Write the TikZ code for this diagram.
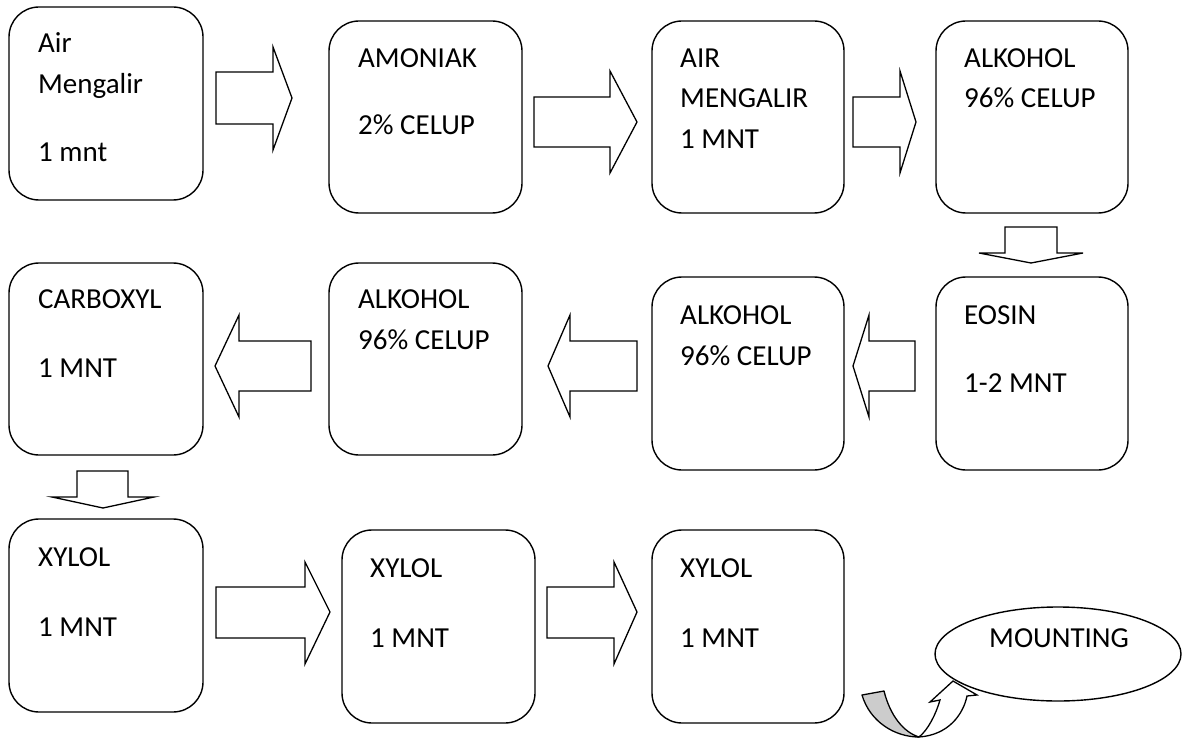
\documentclass[tikz,border=0pt]{standalone}
\usepackage{fontspec}
\setmainfont{Carlito}
\usetikzlibrary{shapes.geometric,calc}
\begin{document}
\begin{tikzpicture}[x=1pt,y=-1pt,
  stepbox/.style={draw,line width=1.4pt,rounded corners=30pt,anchor=north west,inner sep=0pt,outer sep=0pt},
  txt/.style={anchor=base west,inner sep=0pt,font=\fontsize{29}{35}\selectfont},
  blk/.style={draw,line width=1.3pt,fill=white,line join=miter},
  ovalbox/.style={draw,ellipse,line width=1.4pt,inner sep=0pt,minimum width=246pt,minimum height=94pt}]
\useasboundingbox (0,0) rectangle (1185,738);
% boxes
\node[stepbox,minimum width=194pt,minimum height=193pt] (b1) at (9,7) {};
\node[stepbox,minimum width=193pt,minimum height=192pt] (b2) at (329,21) {};
\node[stepbox,minimum width=192pt,minimum height=192pt] (b3) at (652,21) {};
\node[stepbox,minimum width=192pt,minimum height=192pt] (b4) at (936,21) {};
\node[stepbox,minimum width=192pt,minimum height=193pt] (b5) at (936,277) {};
\node[stepbox,minimum width=192pt,minimum height=193pt] (b6) at (652,277) {};
\node[stepbox,minimum width=193pt,minimum height=192pt] (b7) at (329,263) {};
\node[stepbox,minimum width=194pt,minimum height=192pt] (b8) at (9,263) {};
\node[stepbox,minimum width=194pt,minimum height=193pt] (b9) at (9,519) {};
\node[stepbox,minimum width=193pt,minimum height=193pt] (b10) at (342,530) {};
\node[stepbox,minimum width=192pt,minimum height=193pt] (b11) at (652,530) {};
\node[ovalbox] (ell) at (1058,654) {};
% texts
\node[txt] (t1a) at (38,53) {Air};
\node[txt] (t1b) at (38,94) {Mengalir};
\node[txt] (t1c) at (38,162) {1 mnt};
\node[txt] (t2a) at (358,68) {AMONIAK};
\node[txt] (t2b) at (358,135) {2\% CELUP};
\node[txt] (t3a) at (680,68) {AIR};
\node[txt] (t3b) at (680,108) {MENGALIR};
\node[txt] (t3c) at (680,149) {1 MNT};
\node[txt] (t4a) at (964,68) {ALKOHOL};
\node[txt] (t4b) at (964,108) {96\% CELUP};
\node[txt] (t5a) at (964,324) {EOSIN};
\node[txt] (t5b) at (964,392) {1-2 MNT};
\node[txt] (t6a) at (680,324) {ALKOHOL};
\node[txt] (t6b) at (680,365) {96\% CELUP};
\node[txt] (t7a) at (358,308) {ALKOHOL};
\node[txt] (t7b) at (358,349) {96\% CELUP};
\node[txt] (t8a) at (38,308) {CARBOXYL};
\node[txt] (t8b) at (38,377) {1 MNT};
\node[txt] (t9a) at (38,566) {XYLOL};
\node[txt] (t9b) at (38,636) {1 MNT};
\node[txt] (t10a) at (370,577) {XYLOL};
\node[txt] (t10b) at (370,647) {1 MNT};
\node[txt] (t11a) at (680,577) {XYLOL};
\node[txt] (t11b) at (680,647) {1 MNT};
\node[txt] (tm) at (989,647) {MOUNTING};
% right block arrows
\draw[blk] (216,72) -- (273,72) -- (273,47) -- (292,98) -- (273,150) -- (273,124) -- (216,124) -- cycle;
\draw[blk] (534,97) -- (610,97) -- (610,71) -- (637,122) -- (610,173) -- (610,147) -- (534,147) -- cycle;
\draw[blk] (853,97) -- (900,97) -- (900,71) -- (916,122) -- (900,173) -- (900,147) -- (853,147) -- cycle;
% left block arrows
\draw[blk] (311,341) -- (239,341) -- (239,315) -- (215,366) -- (239,417) -- (239,391) -- (311,391) -- cycle;
\draw[blk] (637,341) -- (570,341) -- (570,315) -- (548,366) -- (570,417) -- (570,391) -- (637,391) -- cycle;
\draw[blk] (915,341) -- (869,341) -- (869,315) -- (853,366) -- (869,417) -- (869,391) -- (915,391) -- cycle;
% row 3 right arrows
\draw[blk] (216,587) -- (305,587) -- (305,562) -- (330,612) -- (305,664) -- (305,638) -- (216,638) -- cycle;
\draw[blk] (547,587) -- (614,587) -- (614,562) -- (637,612) -- (614,664) -- (614,638) -- (547,638) -- cycle;
% down arrows
\draw[blk] (1005,227) -- (1057,227) -- (1057,253) -- (1083,253) -- (1031,263) -- (979,253) -- (1005,253) -- cycle;
\draw[blk] (77,471) -- (128,471) -- (128,497) -- (154,497) -- (103,508) -- (52,497) -- (77,497) -- cycle;
% curved arrow
\filldraw[fill=black!20,draw=black,line width=1.3pt,line join=round] (862,695) -- (884,691) .. controls (890,715) and (903,732) .. (919,737) .. controls (895,737) and (870,722) .. cycle;
\draw[blk] (919,737) .. controls (928,730) and (936,714) .. (940,700) -- (930,702) -- (953,681) -- (977,695) -- (967,696) .. controls (963,715) and (948,735) .. (919,737) -- cycle;
\end{tikzpicture}
\end{document}
